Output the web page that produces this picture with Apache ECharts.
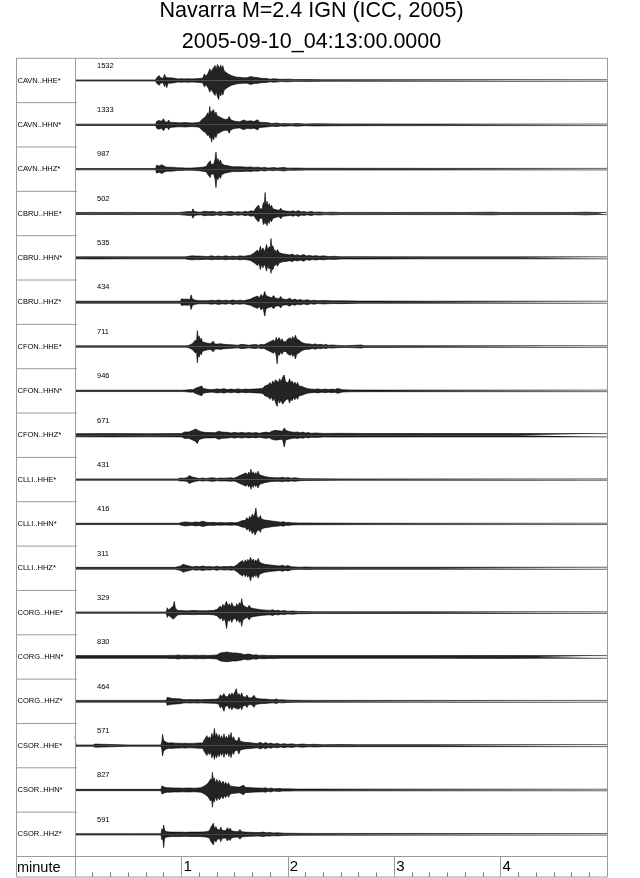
<!DOCTYPE html>
<html><head><meta charset="utf-8">
<script src="https://cdn.jsdelivr.net/npm/echarts@6/dist/echarts.min.js"></script>
<style>html,body{margin:0;padding:0;background:#fff}#c{width:640px;height:878px}</style>
</head><body><div id="c"></div>
<script>
// ---- text ----
const titleLines = ['Navarra M=2.4 IGN (ICC, 2005)', '2005-09-10_04:13:00.0000'];
const traceLabels = ['CAVN..HHE*','CAVN..HHN*','CAVN..HHZ*','CBRU..HHE*','CBRU..HHN*','CBRU..HHZ*',
  'CFON..HHE*','CFON..HHN*','CFON..HHZ*','CLLI..HHE*','CLLI..HHN*','CLLI..HHZ*',
  'CORG..HHE*','CORG..HHN*','CORG..HHZ*','CSOR..HHE*','CSOR..HHN*','CSOR..HHZ*'];
const peakCounts = [1532,1333,987,502,535,434,711,946,671,431,416,311,329,830,464,571,827,591];
const axisName = 'minute';
const tickLabels = ['1','2','3','4'];

// ---- envelopes: [seconds, upper amp, lower amp(optional)], amp in % of half trace height ----
const CAVN_HHE = [[0,2.5],[20,2.5],[45.5,2.5],[46,12],[46.8,8],[47.5,22],[48.2,12],[49,18],[49.7,10],[50.5,28],[51.1,14],[51.7,18,33],[52.5,12],[53.3,9],[54,12],[55,7],[56,10],[57,12],[58,7],[59,10],[60,8],[61,11],[62,7],[63,11],[64,8],[65,10],[66,7],[67,12],[68,8],[69,12],[70,9],[71,14],[72,10],[73,30],[73.8,18],[74.5,26],[75.2,35],[76,53],[76.7,38],[77.5,50],[78.2,42],[79,68],[79.6,48],[80.3,72],[81,80,86],[81.6,55],[82.2,70],[82.8,50],[83.4,66],[84,45],[84.6,52],[85.2,36],[86,42],[86.7,28],[87.4,34],[88.2,22],[89,28],[89.8,18],[90.6,24],[91.4,15],[92.2,20],[93,14],[94,18],[95,12],[96,19],[97,12],[98,15],[99,18],[100,10],[101,14],[102,9],[103,13],[104,8],[105,10],[106,7],[108,9],[110,6],[112,8],[116,5],[120,6],[124,4],[130,4.5],[140,3.5],[300,3.5]];
const CAVN_HHN = [[0,3],[45.5,3],[46,15],[46.7,9],[47.3,20],[48,12],[48.6,16],[49.3,10],[50,27],[50.7,14],[51.4,20],[52.1,12],[52.8,22],[53.5,12],[54.3,18],[55,11],[55.8,16],[56.6,10],[57.4,14],[58.2,9],[59,13],[60,9],[61,14],[62,10],[63,15],[64,9],[65,12],[66,8],[67,13],[68,9],[69,14],[70,11],[71,18],[72,27],[72.7,20],[73.5,35],[74.2,28],[75,55,50],[75.5,40],[76,83,60],[76.5,50],[77,60,78],[77.6,52],[78.2,68],[78.8,45],[79.5,58],[80.2,40],[81,48],[81.7,35],[82.5,42],[83.2,28],[84,32],[84.7,24],[85.5,33],[86.2,26],[87,38],[87.7,24],[88.5,28],[89.2,18],[90,22],[91,15],[92,20],[93,14],[94,18],[95,22],[96,13],[97,16],[98,11],[99,18],[100,11],[101,15],[102,10],[103,23],[104,12],[105,9],[106,11],[107,7],[109,9],[111,6],[114,8],[116,5],[118,6],[122,4.5],[125,6],[130,4],[135,5],[150,4],[200,3.5],[300,3.5]];
const CAVN_HHZ = [[0,3],[45.5,3],[46,18],[46.7,10],[47.5,14],[48.2,9],[49,20],[49.5,12],[50,27],[50.6,12],[51.3,15],[52,9],[53,15],[54,9],[55,13],[56,8],[57,10],[58,6],[59,9],[60,6],[61,8],[62,5],[63,8],[64,5],[65,7],[66,5],[67,8],[68,6],[69,9],[70,7],[71,15],[72,9],[73,14],[74,12],[75,25],[75.6,18],[76.2,38],[76.8,22],[77.5,30],[78.2,22],[79,45],[79.5,77,83],[80,35],[80.6,48],[81.3,30],[82,42],[82.7,25],[83.5,30],[84.3,18],[85,27],[85.8,16],[86.6,20],[87.4,13],[88.2,16],[89,11],[90,16],[91,11],[92,18],[93,11],[94,14],[95,10],[96,14],[97,9],[98,16],[99,10],[100,12],[101,8],[102,13],[103,9],[104,11],[105,6],[107,8],[109,5],[112,7],[114,5],[118,8],[120,4.5],[125,5],[130,4],[140,4],[200,3.5],[300,3.5]];
const CBRU_HHE = [[0,5],[5,4],[10,5],[20,4],[30,5],[40,4],[50,5],[58.5,4.5],[59,9],[60,6],[61,12],[62,7],[63,15],[64,9],[65,13],[65.8,8],[66.5,21],[67.3,9],[68,12],[69,7],[70,9],[71,6],[72,8],[73,10],[74,6],[75,8],[76,6],[78,9],[80,6],[82,9],[84,6],[86,8],[88,9],[90,6],[92,8],[94,6],[96,10],[97.5,7],[99,12],[100,18],[101,10],[102,25],[102.8,16],[103.5,38],[104.2,22],[105,30],[105.6,20],[106.2,50],[106.7,32],[107.2,95,48],[107.7,35],[108.3,55],[108.9,32],[109.5,45],[110.1,26],[110.8,38],[111.5,22],[112.3,30],[113,18],[114,22],[115,14],[116,24],[117,13],[118,21],[119,11],[120,15],[121.5,9],[123,12],[124.5,8],[126,13],[127.5,7],[129,9],[131,6],[133,9],[135,6],[138,7],[141,5],[145,6],[150,4.5],[160,5],[180,4.5],[200,5],[220,4.5],[235,6],[240,4.5],[260,5],[280,4.5],[288,6],[295,4.5],[300,5]];
const CBRU_HHN = [[0,4.5],[10,5],[30,4.5],[50,4.5],[62,4.5],[63,12],[64,7],[65,15],[66,9],[67,13],[68,8],[69,15],[70,8],[71,10],[72,7],[73,10],[75,6],[77,9],[79,6],[81,8],[83,6],[85,9],[87,6],[89,8],[91,6],[93,9],[95,7],[97,9],[99,12],[100,9],[101,22],[102,14],[103,35],[103.7,22],[104.5,53],[105.2,30],[106,45],[106.7,28],[107.4,40],[108,60],[108.7,35],[109.5,50],[110,40],[110.5,87,70],[111,45],[111.5,55],[112.2,38],[113,45],[113.6,28],[114.2,38],[115,24],[116,30],[117,18],[118,25],[119,16],[120,22],[121,13],[122.5,17],[124,11],[125.5,14],[127,10],[129,15],[130.5,8],[132,11],[134,8],[136,10],[138,7],[140,9],[143,6],[146,7],[150,5],[160,5.5],[170,5],[200,4.5],[250,4.5],[300,4.5]];
const CBRU_HHZ = [[0,4.5],[20,4.5],[40,4.5],[59.5,4.5],[60,15],[60.8,9],[61.5,13],[62.3,8],[63,14],[64,18],[64.8,12],[65.5,33],[66.2,14],[67,16],[68,9],[69,12],[70,7],[71,10],[72,7],[73,10],[75,7],[77,9],[79,7],[81,10],[83,7],[85,9],[87,6],[89,10],[91,7],[93,9],[95,7],[97,10],[99,14],[100,10],[101,22],[102,14],[103,28],[103.8,18],[105,35],[106,24],[107,48,63],[107.7,30],[108.5,38],[109.2,24],[110,32],[111,20],[112,30],[113,18],[114,24],[115,16],[116,26],[117,14],[118,21],[119.5,12],[121,18],[122.5,10],[124,14],[125.5,9],[127,12],[129,8],[131,11],[133,7],[135,9],[137,6],[140,8],[145,6],[150,6.5],[160,5],[170,5],[200,4.5],[300,4.5]];
const CFON_HHE = [[0,3],[30,3],[62.5,3],[63,8],[64,5],[65,10],[66,12],[67,9],[68,30],[68.5,20],[69,72,74],[69.5,35],[70,48],[70.6,28],[71.2,38],[71.8,22],[72.5,30],[73.2,18],[74,25],[74.8,15],[75.6,22],[76.4,13],[77.2,20],[78,24],[78.8,12],[79.6,18],[80.4,11],[81.2,16],[82,13],[83,17],[84,10],[85,14],[86,9],[87,12],[88,8],[89,10],[90,7],[91,9],[92,6],[94,10],[95,6],[96,8],[98,6],[100,8],[102,9],[103.5,6],[105,10],[106.5,8],[108,14],[109,10],[110,22],[111,15],[112,30],[112.8,20],[113.5,42],[114,28,78],[114.6,30],[115.2,40],[116,24],[116.8,35],[117.5,22],[118.3,30],[119,22],[119.8,33],[120.6,24],[121.4,40],[122,30],[122.8,45],[123.5,32],[124.3,51,56],[125,35],[125.7,44],[126.4,28],[127.2,30],[128,18],[129,22],[130,13],[131,18],[132,12],[133,14],[134,9],[135.5,12],[137,8],[138.5,10],[140,7],[141.5,9],[143,6],[145,7],[148,5],[152,4],[155,4.5],[161.5,7],[163,4],[200,3.5],[300,3.5]];
const CFON_HHN = [[0,3],[60,3],[63,4],[65,6],[66.5,5],[68,12],[69,8],[70,18],[70.7,10],[71.5,22],[72.2,11],[73,15],[74,8],[75,10],[76,6],[77,9],[78,6],[80,9],[82,7],[84,10],[86,6],[88,8],[90,6],[92,9],[94,6],[96,8],[98,7],[99,12],[100,8],[101,14],[102,9],[103,15],[104,10],[105,16],[106,12],[107,22],[108,16],[109,28],[110,38],[110.8,26],[111.5,45],[112.3,32],[113,50],[114,57,70],[114.7,38],[115.4,55],[116.2,40],[117,60],[118,72,63],[118.7,42],[119.5,50],[120.2,35],[121,55],[121.7,35],[122.4,45],[123.2,30],[124,40],[124.7,26],[125.5,38],[126.3,22],[127,30],[128,20],[129,27],[130,13],[131,15],[132,9],[133,10],[135,7],[137,9],[139,6],[141,8],[143,6],[145,8],[146.5,6],[148,11],[149,6],[151,5],[156,4],[170,3.5],[300,3.5]];
const CFON_HHZ = [[0,7],[20,7.5],[40,7],[60,7.5],[61,9],[62,15],[63,10],[64,14],[65,11],[66,20],[67,14],[68,28],[69,33,38],[69.8,20],[70.5,25],[71.3,16],[72,20],[73,13],[74,18],[75,12],[76,18],[77,12],[78,17],[79,11],[80,15],[81,18],[82,11],[83,14],[84,10],[86,13],[88,10],[90,13],[92,10],[94,13],[96,10],[98,12],[100,10],[102,12],[104,9],[106,12],[108,14],[109.5,11],[111,18],[112,14],[113,22],[114,30],[115,20],[116,25],[117,18],[118,33,53],[118.8,22],[119.5,28],[120.3,18],[121,22],[122,15],[123,20],[124,13],[125.5,15],[127,11],[128.5,14],[130,10],[131.5,12],[133,9],[136,10],[140,8],[150,8.5],[160,8],[200,7.5],[250,7.5],[300,7.5]];
const CLLI_HHE = [[0,3],[30,3],[58,3],[58.5,12],[59.2,7],[60,10],[61,6],[62,12],[63,8],[64.5,18],[65.2,9],[66,12],[67,6],[68,8],[70,5],[72,7],[74,5],[76,7],[78,8],[80,5],[82,7],[84,6],[86,7],[88,8],[89.5,6],[91,10],[92,8],[93,18],[94,12],[95,25],[95.8,16],[96.5,30],[97.2,20],[98,34],[98.6,22],[99.2,47,44],[99.8,25],[100.5,35],[101.2,22],[102,32],[102.6,20],[103.2,38],[104,22],[104.7,30],[105.4,18],[106.2,22],[107,14],[108,18],[109,11],[110,15],[111,9],[112,12],[113,8],[114,12],[115.5,8],[117,10],[118.5,7],[120,9],[122,6],[124,8],[127,5],[130,4],[132,4],[150,3],[300,3]];
const CLLI_HHN = [[0,3],[30,3],[58.5,3],[59,9],[60,6],[61,8],[62,9],[63,6],[64,8],[66,6],[68,9],[70,7],[72,12],[73,7],[74,8],[76,6],[78,7],[80,5],[82,6],[85,5],[88,6],[90,5],[92,7],[93,10],[94,14],[95,22],[96,16],[97,28],[97.8,18],[98.5,35],[99.2,24],[100,45],[100.7,30],[101.5,50],[102,72,51],[102.6,32],[103.2,40],[103.9,26],[104.5,38],[105.2,22],[106,30],[106.8,18],[107.6,25],[108.4,16],[109.2,22],[110,14],[111,20],[112,12],[113,18],[114,10],[115,12],[116,8],[117.5,10],[119,6],[120.5,7],[122,5],[126,4],[130,4],[160,3],[300,3]];
const CLLI_HHZ = [[0,4],[30,4],[56.5,4],[57,12],[57.8,7],[58.5,14],[59.3,9],[60,13],[61,18],[61.8,10],[62.5,14],[63.5,8],[65,9],[66.5,6],[68,9],[70,7],[72,10],[74,7],[76,8],[78,6],[80,9],[82,6],[84,8],[86,7],[88,9],[89.5,7],[91,14],[92,10],[93,27],[93.8,18],[94.5,35],[95.2,22],[96,38],[96.7,26],[97.4,40],[98.2,30],[99,50,57],[99.7,30],[100.5,42],[101.2,28],[102,38],[102.6,26],[103.3,45],[104,28],[104.7,35],[105.4,22],[106.2,30],[107,18],[108,22],[109,16],[110,25],[111,14],[112,18],[113,12],[114,18],[115.5,10],[117,14],[118.5,9],[120,12],[122,7],[124,6],[126,5],[130,5.5],[135,5],[160,4.5],[200,4.5],[300,4.5]];
const CORG_HHE = [[0,3],[30,3],[51.5,3],[52,22],[52.7,12],[53.4,18],[54,20],[54.7,12],[55.4,30],[56,51,36],[56.6,20],[57.3,18],[58,10],[59,14],[60,9],[61,12],[62,8],[63,12],[64,8],[65,12],[66,9],[67,18],[68,9],[69,12],[70,8],[71,11],[72,8],[73,11],[74,8],[75,12],[76,9],[77,12],[78,10],[79,13],[80,14],[81,12],[82,30],[82.7,20],[83.4,38],[84.1,24],[84.8,40],[85.5,51,72],[86.2,30],[87,40],[87.7,26],[88.4,45],[89.1,30],[89.8,38],[90.5,25],[91.2,40],[92,28],[92.7,45],[93.4,35],[94,63,62],[94.6,35],[95.3,40],[96,26],[96.7,35],[97.4,22],[98.2,33],[99,22],[99.8,28],[100.6,18],[101.4,26],[102.2,16],[103,22],[104,14],[105,20],[106,12],[107,18],[108,11],[109,14],[110,10],[111.5,13],[113,8],[114.5,11],[116,7],[118,9],[120,6],[123,7],[126,5],[129,5],[135,4],[140,4],[200,3.5],[300,3.5]];
const CORG_HHN = [[0,6],[30,6],[51.5,6],[52,9],[53,7],[54,9],[56,7],[58,9],[60,7],[62,8],[65,6.5],[68,8],[70,7],[72,8],[75,6.5],[78,8],[80,9],[81,12],[82,18],[83,13],[84,20],[84.8,15],[85.5,22],[86.3,14],[87,20],[88,14],[89,18],[90,13],[91,18],[92,12],[94,14],[95.5,10],[97,13],[98,9],[99,12],[100.5,8],[102,10],[104,7],[106,8],[109,6.5],[112,7],[116,6],[120,6],[160,6],[200,6],[240,6.5],[260,6],[300,6]];
const CORG_HHZ = [[0,4],[30,4],[51.5,4],[52,18],[52.8,10],[53.5,15],[54.3,9],[55,13],[56,8],[57,12],[58,8],[59,11],[60,13],[61,8],[62,11],[63,7],[64,11],[65,8],[66,10],[67,7],[68,12],[69,8],[70,11],[71,7],[72,10],[73,8],[74,11],[75,8],[76,12],[77,9],[78,11],[79,9],[80,14],[81,12],[82,30],[82.8,20],[83.5,28],[84,35,45],[84.7,22],[85.5,30],[86.2,20],[87,35],[87.7,24],[88.5,38],[89.2,26],[90,34],[91,57,33],[91.7,25],[92.5,35],[93.2,22],[94,38],[94.7,22],[95.5,30],[96.2,18],[97,28],[97.8,16],[98.6,22],[99.4,15],[100.2,20],[101,27],[101.8,15],[102.6,20],[103.5,12],[104.5,16],[105.5,10],[106.5,18],[107.5,10],[108.5,15],[109.5,8],[110.5,12],[112,7],[113.5,10],[115,6],[117,7],[120,5],[125,4.5],[130,4],[300,4]];
const CSOR_HHE = [[0,40,3],[0.6,3],[10,3],[11.4,7],[12.5,3],[30,3],[48.5,3],[49,20],[49.4,51,47],[49.9,25],[50.5,30],[51.2,16],[52,18],[52.7,12],[53.4,20],[54.1,13],[54.8,20],[55.5,12],[56.2,16],[57,11],[57.8,18],[58.6,11],[59.4,15],[60.2,10],[61,17],[62,11],[63,17],[64,10],[65,14],[66,10],[67,16],[68,11],[69,16],[70,12],[71,18],[72,12],[73,28],[73.7,20],[74.4,45],[75,30],[75.7,40],[76.4,28],[77.2,55],[78,35],[78.6,78,62],[79.2,40],[79.9,55],[80.6,35],[81.3,50],[82,30],[82.7,45],[83.4,28],[84,53],[84.7,30],[85.4,42],[86.1,28],[86.8,50],[87.4,30],[88,59,54],[88.7,28],[89.4,40],[90.1,24],[90.8,33],[91.6,20],[92.4,38],[93.2,20],[94,28],[95,16],[96,22],[97,14],[98,22],[99,13],[100,18],[101,11],[102,18],[103,10],[104.5,15],[106,9],[107.5,14],[109,8],[110.5,12],[112,7],[114,10],[116,6],[118,9],[120,6],[122,8],[125,5],[128,7],[132,5],[135,6],[140,4.5],[150,5],[160,4.5],[200,4.5],[300,4.5]];
const CSOR_HHN = [[0,3],[30,3],[48.5,3],[49,18],[49.5,10],[50,27],[50.6,12],[51.2,15],[52,10],[53,18],[53.8,10],[54.6,14],[55.4,9],[56.2,15],[57,9],[58,15],[59,9],[60,13],[61,8],[62,13],[63,9],[64,15],[65,9],[66,12],[67,8],[68,12],[69,9],[70,14],[71,10],[72,15],[73,18],[74,14],[75,30],[75.8,22],[76.5,50],[77,35],[77.5,80,78],[78,42],[78.5,55],[79.2,32],[80,48],[80.7,28],[81.4,45],[82,53],[82.7,28],[83.5,40],[84.2,24],[85,35],[85.8,20],[86.6,33],[87.4,18],[88.2,25],[89,16],[90,24],[91,14],[92,20],[93,13],[94,18],[95,22],[96,12],[97,17],[98,11],[99,18],[100,10],[101,16],[102,9],[103,18],[104,9],[105,12],[106,8],[107.5,10],[109,6],[110.5,9],[112,5],[115,7],[117,5],[120,5],[125,4],[130,4],[300,3.5]];
const CSOR_HHZ = [[0,3],[30,3],[48.5,3],[49,25],[49.5,15],[50,42,60],[50.5,18],[51,22],[51.7,12],[52.4,18],[53.1,11],[53.8,16],[54.6,10],[55.4,16],[56.2,10],[57,17],[58,10],[59,15],[60,10],[61,15],[62,9],[63,17],[64,10],[65,15],[66,10],[67,15],[68,10],[69,16],[70,10],[71,17],[72,11],[73,17],[74,12],[75,20],[75.8,16],[76.5,30],[77.2,22],[78,50,48],[78.7,25],[79.5,35],[80.2,22],[81,30],[81.6,20],[82.2,33],[83,18],[84,25],[85,16],[86,30],[86.8,18],[87.5,28],[88.2,16],[89,22],[90,13],[91,20],[92,12],[93,22],[94,12],[95,16],[96,10],[97,14],[98,9],[99,14],[100,9],[101,15],[102,8],[103,12],[104,8],[106,10],[108,7],[110,8],[112,6],[114,7],[118,5],[122,4.5],[130,4],[300,3.5]];

const envelopes = [CAVN_HHE,CAVN_HHN,CAVN_HHZ,CBRU_HHE,CBRU_HHN,CBRU_HHZ,CFON_HHE,CFON_HHN,CFON_HHZ,
  CLLI_HHE,CLLI_HHN,CLLI_HHZ,CORG_HHE,CORG_HHN,CORG_HHZ,CSOR_HHE,CSOR_HHN,CSOR_HHZ];

// ---- layout ----
const FONT = 'Liberation Sans, Arial, Helvetica, sans-serif';
const FL = 16, FR = 607, COL = 75, TOP = 58.3, N = traceLabels.length;
const BOT = 877, AXT = 856.5, PH = (AXT - TOP) / N;
const FRAME = '#9a9a9a';

const grids = [], xAxes = [], yAxes = [], series = [];
for (let i = 0; i < N; i++) {
  grids.push({left: COL, top: TOP + i * PH, width: FR - COL, height: PH});
  xAxes.push({gridIndex: i, type: 'value', min: 0, max: 300, show: false});
  yAxes.push({gridIndex: i, type: 'value', min: -100, max: 100, show: false});
  const e = envelopes[i];
  const common = {type: 'line', xAxisIndex: i, yAxisIndex: i, showSymbol: false, symbol: 'none',
    silent: true, lineStyle: {color: '#000', width: 0.6}, areaStyle: {color: '#000', opacity: 0.86}};
  series.push(Object.assign({data: e.map(p => [p[0], p[1]])}, common));
  series.push(Object.assign({data: e.map(p => [p[0], -(p.length > 2 ? p[2] : p[1])])}, common));
}
// bottom time-axis strip
grids.push({left: COL, top: AXT, width: FR - COL, height: BOT - AXT});
xAxes.push({gridIndex: N, type: 'value', min: 0, max: 300, interval: 60,
  axisLine: {show: false},
  axisTick: {show: true, inside: true, length: BOT - AXT, lineStyle: {color: FRAME, width: 1}},
  minorTick: {show: true, splitNumber: 6, length: 4.5, lineStyle: {color: '#777', width: 1}},
  splitLine: {show: false},
  axisLabel: {inside: true, showMinLabel: false, showMaxLabel: false, align: 'left', verticalAlign: 'middle',
    margin: 10, padding: [0, 0, 0, 2], fontSize: 15, color: '#000', fontFamily: FONT,
    formatter: v => tickLabels[v / 60 - 1] || ''}
});
yAxes.push({gridIndex: N, type: 'value', min: 0, max: 1, show: false});

const g = [];
g.push({type: 'rect', shape: {x: FL + 0.5, y: TOP, width: FR - FL, height: BOT - TOP}, style: {fill: 'none', stroke: FRAME, lineWidth: 1}, z: 10});
g.push({type: 'line', shape: {x1: COL + 0.5, y1: TOP, x2: COL + 0.5, y2: BOT}, style: {stroke: FRAME, lineWidth: 1}, z: 10});
g.push({type: 'line', shape: {x1: FL, y1: AXT, x2: FR, y2: AXT}, style: {stroke: FRAME, lineWidth: 1}, z: 10});
for (let i = 1; i < N; i++) {
  const y = TOP + i * PH;
  g.push({type: 'line', shape: {x1: FL, y1: y, x2: COL + 2, y2: y}, style: {stroke: FRAME, lineWidth: 1}, z: 10});
}
for (let i = 0; i < N; i++) {
  g.push({type: 'text', x: FL + 1.5, y: TOP + (i + 0.5) * PH, z: 11,
    style: {text: traceLabels[i], fontSize: 7.5, fontFamily: FONT, fill: '#000', verticalAlign: 'middle', align: 'left'}});
  g.push({type: 'text', x: 97, y: TOP + i * PH + 7.4, z: 11,
    style: {text: String(peakCounts[i]), fontSize: 7.5, fontFamily: FONT, fill: '#000', verticalAlign: 'middle', align: 'left'}});
}
g.push({type: 'text', x: FL + 1, y: 867.5, z: 11,
  style: {text: axisName, fontSize: 14.5, fontFamily: FONT, fill: '#000', verticalAlign: 'middle', align: 'left'}});
g.push({type: 'text', x: 311.5, y: 11.5, z: 11,
  style: {text: titleLines[0], fontSize: 21.5, fontFamily: FONT, fill: '#000', verticalAlign: 'middle', align: 'center'}});
g.push({type: 'text', x: 311.5, y: 42, z: 11,
  style: {text: titleLines[1], fontSize: 21.5, fontFamily: FONT, fill: '#000', verticalAlign: 'middle', align: 'center'}});

const chart = echarts.init(document.getElementById('c'), null, {renderer: 'canvas'});
chart.setOption({
  animation: false,
  backgroundColor: '#fff',
  grid: grids, xAxis: xAxes, yAxis: yAxes, series: series,
  graphic: {elements: g}
});
</script></body></html>
